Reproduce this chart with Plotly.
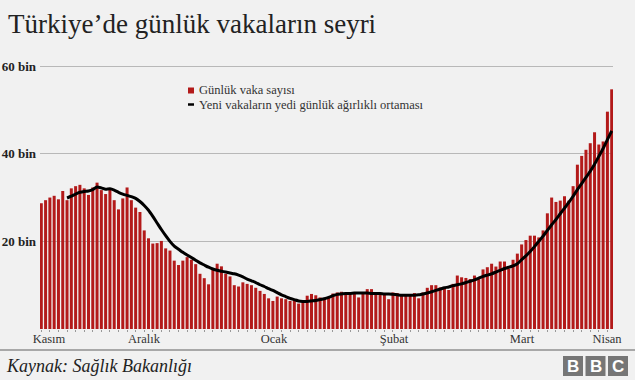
import plotly.graph_objects as go
import pandas as pd

# ---------------- data ----------------
dates = pd.date_range("2020-11-25", "2021-04-07", freq="D")  # 134 days

daily_cases = [
    28700, 29400, 30000, 30400, 29600, 31500, 29400, 32100, 32600, 32900,
    32100, 30600, 32300, 33400, 31700, 30800, 32100, 29400, 27300, 29800,
    32300, 29400, 27700, 26700, 22500, 20700, 19500, 19600, 20100, 18400,
    17900, 15600, 14600, 15600, 16400, 15800, 14800, 12600, 11600, 10200,
    13900, 14900, 14300, 12600, 12000, 10000, 9700, 10650, 10300, 10000,
    9400, 8700, 8000, 7000, 6400, 7400, 7000, 6800, 6400, 6600,
    5800, 6200, 7600, 8000, 7700, 7200, 7100, 7200, 8100, 8350,
    8500, 8200, 7800, 8350, 7200, 8350, 9100, 9100, 8000, 7800,
    7800, 6800, 8350, 8200, 7800, 7800, 7800, 8200, 7000, 8350,
    9400, 10000, 10000, 9500, 9300, 8900, 10300, 12200, 11800, 11650,
    11400, 12200, 11400, 13600, 14100, 14900, 14250, 15400, 15400, 13700,
    15800, 17200, 19300, 20300, 21300, 21300, 20900, 22500, 26400, 30000,
    29000, 29300, 30300, 29300, 32600, 37500, 39500, 40900, 42400, 44900,
    42100, 42800, 49600, 54700,
]

# 7-day weighted average, available from the 7th day on
avg_dates = dates[6:]
weekly_avg = [
    29900, 30300, 30800, 31200, 31400, 31500, 31800, 32400, 32200, 31900,
    32000, 31700, 31200, 30800, 30500, 30200, 29800, 29100, 28200, 27100,
    25700, 24200, 22700, 21300, 20000, 18900, 18200, 17500, 16900, 16300,
    15700, 15100, 14600, 14100, 13700, 13400, 13200, 13000, 12800, 12600,
    12300, 11900, 11400, 11000, 10600, 10100, 9700, 9200, 8800, 8300,
    7800, 7400, 7000, 6700, 6400, 6300, 6300, 6400, 6500, 6700,
    6900, 7200, 7600, 7900, 8000, 8100, 8100, 8200, 8200, 8200,
    8200, 8100, 8100, 8100, 8000, 8000, 7900, 7800, 7700, 7700,
    7700, 7700, 7800, 8000, 8200, 8500, 8800, 9100, 9400, 9600,
    9900, 10100, 10300, 10600, 10900, 11200, 11600, 12000, 12300, 12600,
    13000, 13400, 13800, 14100, 14400, 14900, 15800, 16700, 17700, 18800,
    20000, 21200, 22500, 23800, 25000, 26300, 27600, 28900, 30300, 31800,
    33200, 34600, 36000, 37600, 39400, 41200, 43200, 45200,
]

month_labels = ["Kasım", "Aralık", "Ocak", "Şubat", "Mart", "Nisan"]
month_label_pos = ["2020-11-26 19:00", "2020-12-18 22:30", "2021-01-18 06:00",
                   "2021-02-15 06:00", "2021-03-17 02:00", "2021-04-05 21:30"]
month_starts = ["2020-12-01", "2021-01-01", "2021-02-01", "2021-03-01", "2021-04-01"]

y_ticks = [20000, 40000, 60000]
y_tick_labels = ["20 bin", "40 bin", "60 bin"]

title_text = "Türkiye’de günlük vakaların seyri"
legend_bar = "Günlük vaka sayısı"
legend_line = "Yeni vakaların yedi günlük ağırlıklı ortaması"
source_text = "Kaynak: Sağlık Bakanlığı"

# ---------------- styling ----------------
BG = "#f1f1f1"
BAR = "#b31a1a"
SERIF = "Liberation Serif"

W, H = 635, 380
ML, MR, MT, MB = 40, 22, 65, 51
PW, PH = W - ML - MR, H - MT - MB


def px(x):
    return (x - ML) / PW


def py(y):
    return (H - MB - y) / PH


fig = go.Figure()
fig.add_trace(go.Bar(x=dates, y=daily_cases, marker=dict(color=BAR, line=dict(width=0)),
                     name=legend_bar, showlegend=False, hoverinfo="x+y"))
fig.add_trace(go.Scatter(x=avg_dates, y=weekly_avg, mode="lines",
                         line=dict(color="#000000", width=3, shape="spline", smoothing=0.6),
                         name=legend_line, showlegend=False))

shapes = [
    # legend symbols
    dict(type="rect", xref="paper", yref="paper", x0=px(188), x1=px(194), y0=py(93.5), y1=py(87.5),
         fillcolor=BAR, line=dict(width=0)),
    dict(type="line", xref="paper", yref="paper", x0=px(188), x1=px(194), y0=py(104.5), y1=py(104.5),
         line=dict(color="#000", width=2.5)),
    # footer rule
    dict(type="line", xref="paper", yref="paper", x0=px(0), x1=px(W), y0=py(350), y1=py(350),
         line=dict(color="#a8a8a8", width=2)),
]
annotations = [
    dict(text=title_text, xref="paper", yref="paper", x=px(6), y=py(24), xanchor="left",
         yanchor="middle", showarrow=False, font=dict(family=SERIF, size=27, color="#222")),
    dict(text=legend_bar, xref="paper", yref="paper", x=px(197), y=py(90), xanchor="left",
         yanchor="middle", showarrow=False, font=dict(family=SERIF, size=12.5, color="#333")),
    dict(text=legend_line, xref="paper", yref="paper", x=px(197), y=py(104.5), xanchor="left",
         yanchor="middle", showarrow=False, font=dict(family=SERIF, size=12.5, color="#333")),
    dict(text="<i>" + source_text + "</i>", xref="paper", yref="paper", x=px(4), y=py(366),
         xanchor="left", yanchor="middle", showarrow=False,
         font=dict(family=SERIF, size=18, color="#222")),
]
# BBC block logo
for i, letter in enumerate(["B", "B", "C"]):
    x0 = 563 + i * 22.5
    shapes.append(dict(type="rect", xref="paper", yref="paper", x0=px(x0), x1=px(x0 + 20),
                       y0=py(376), y1=py(356), fillcolor="#767676", line=dict(width=0)))
    annotations.append(dict(text="<b>" + letter + "</b>", xref="paper", yref="paper",
                            x=px(x0 + 10), y=py(366), xanchor="center", yanchor="middle",
                            showarrow=False,
                            font=dict(family="Liberation Sans", size=17, color="#ffffff")))

x_range = ["2020-11-24 16:44", "2021-04-07 07:16"]

fig.update_layout(
    width=W, height=H,
    margin=dict(l=ML, r=MR, t=MT, b=MB, pad=0, autoexpand=False),
    paper_bgcolor=BG, plot_bgcolor=BG,
    bargap=0.3,
    showlegend=False,
    shapes=shapes,
    annotations=annotations,
    xaxis=dict(
        type="date", range=x_range, automargin=False,
        tickmode="array", tickvals=month_label_pos, ticktext=month_labels,
        ticks="", showgrid=False, zeroline=False, showline=False,
        tickfont=dict(family=SERIF, size=12.5, color="#333"),
        minor=dict(ticks="outside", tickmode="linear", tick0="2020-11-25",
                   dtick=2 * 86400000, ticklen=2, tickwidth=1, tickcolor="#999", showgrid=False),
        fixedrange=True,
    ),
    xaxis2=dict(
        type="date", range=x_range, overlaying="x", side="bottom", automargin=False,
        tickmode="array", tickvals=month_starts, showticklabels=False,
        ticks="outside", ticklen=3, tickwidth=2, tickcolor="#555",
        showgrid=False, zeroline=False, showline=False,
    ),
    yaxis=dict(
        range=[0, 60250], tickmode="array", tickvals=y_ticks, ticktext=y_tick_labels,
        automargin=False,
        showgrid=True, gridcolor="#b8b8b8", gridwidth=1, zeroline=False, showline=False,
        ticks="", ticklabelstandoff=3,
        tickfont=dict(family=SERIF, size=13, color="#222", weight="bold"),
        fixedrange=True,
    ),
)

fig.write_html(
    "out.html",
    config={"displayModeBar": False},
    post_script="document.body.style.margin='0';document.body.style.background='" + BG + "';",
)
